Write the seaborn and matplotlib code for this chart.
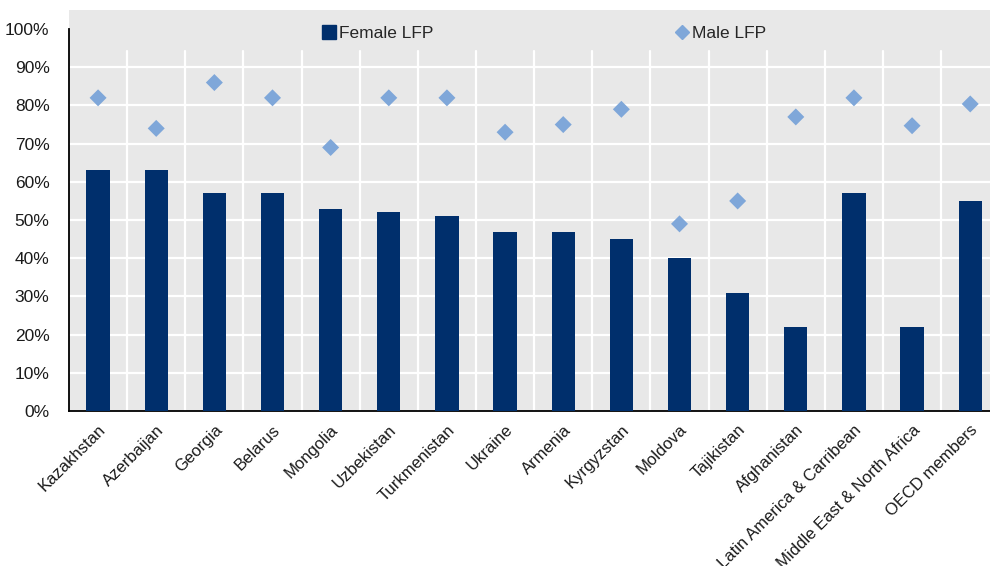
import numpy as np
import pandas as pd
import matplotlib
matplotlib.use("Agg")
import matplotlib.pyplot as plt
import seaborn as sns
from matplotlib.lines import Line2D
from matplotlib.ticker import PercentFormatter

# Données
countries = ["Kazakhstan", "Azerbaijan", "Georgia", "Belarus", "Mongolia",
             "Uzbekistan", "Turkmenistan", "Ukraine", "Armenia", "Kyrgyzstan",
             "Moldova", "Tajikistan", "Afghanistan", "Latin America & Carribean",
             "Middle East & North Africa", "OECD members"]
female_lfp = [63, 63, 57, 57, 53, 52, 51, 47, 47, 45, 40, 31, 22, 57, 22, 55]
male_lfp = [82, 74, 86, 82, 69, 82, 82, 73, 75, 79, 49, 55, 77, 82, 74.7, 80.4]

df = pd.DataFrame({"country": countries, "female": female_lfp, "male": male_lfp})

navy = "#002F6C"
light = "#7FA7D9"
bg = "#E8E8E8"

sns.set_theme(style="white")
plt.rcParams["font.family"] = ["Liberation Sans", "DejaVu Sans"]

fig = plt.figure(figsize=(9.9, 5.66), dpi=100)
ax = fig.add_axes([69 / 990, 155 / 566, 1 - 69 / 990, (411 - 10) / 566])
ax.set_facecolor(bg)

sns.barplot(data=df, x="country", y="female", color=navy, width=0.4,
            saturation=1, edgecolor=navy, linewidth=0, ax=ax, zorder=3)
sns.scatterplot(data=df, x="country", y="male", marker="D", s=75,
                color=light, edgecolor="none", ax=ax, zorder=4)

ax.set_ylim(0, 105)
ax.set_xlim(-0.5, 15.34)
ax.set_yticks(np.arange(0, 101, 10))
ax.yaxis.set_major_formatter(PercentFormatter(decimals=0))

# grille horizontale (10% à 90%)
for yv in range(10, 100, 10):
    ax.axhline(yv, color="white", lw=1.6, zorder=1)
# grille verticale entre catégories
for xv in np.arange(0.5, 15.5, 1):
    ax.axvline(xv, ymin=0, ymax=94.2 / 105, color="white", lw=1.6, zorder=1)

ax.set_xticks(np.arange(0.5, 15.5, 1), minor=True)
ax.tick_params(axis="x", which="major", length=0, pad=8, labelsize=12)
ax.tick_params(axis="x", which="minor", direction="in", length=5, width=1, color="black")
ax.tick_params(axis="y", direction="in", length=5, width=1, color="black", pad=14,
               labelsize=12.5)
ax.tick_params(labelcolor="#1a1a1a")
plt.setp(ax.get_xticklabels(), rotation=45, ha="right", rotation_mode="anchor")

for s in ["top", "right"]:
    ax.spines[s].set_visible(False)
ax.spines["left"].set_bounds(0, 100)
ax.spines["left"].set_color("black")
ax.spines["bottom"].set_color("black")
ax.spines["left"].set_linewidth(1.3)
ax.spines["bottom"].set_linewidth(1.3)
ax.set_xlabel("")
ax.set_ylabel("")

handles = [Line2D([], [], marker="s", color=navy, ls="none", markersize=10),
           Line2D([], [], marker="D", color=light, ls="none", markersize=7)]
ax.legend(handles, ["Female LFP", "Male LFP"], ncol=2, loc="upper center",
          bbox_to_anchor=(0.515, 1.0), frameon=False, fontsize=12.5,
          columnspacing=13.8, handletextpad=0.1, handlelength=1.0)

fig.savefig("out.png", dpi=100)
